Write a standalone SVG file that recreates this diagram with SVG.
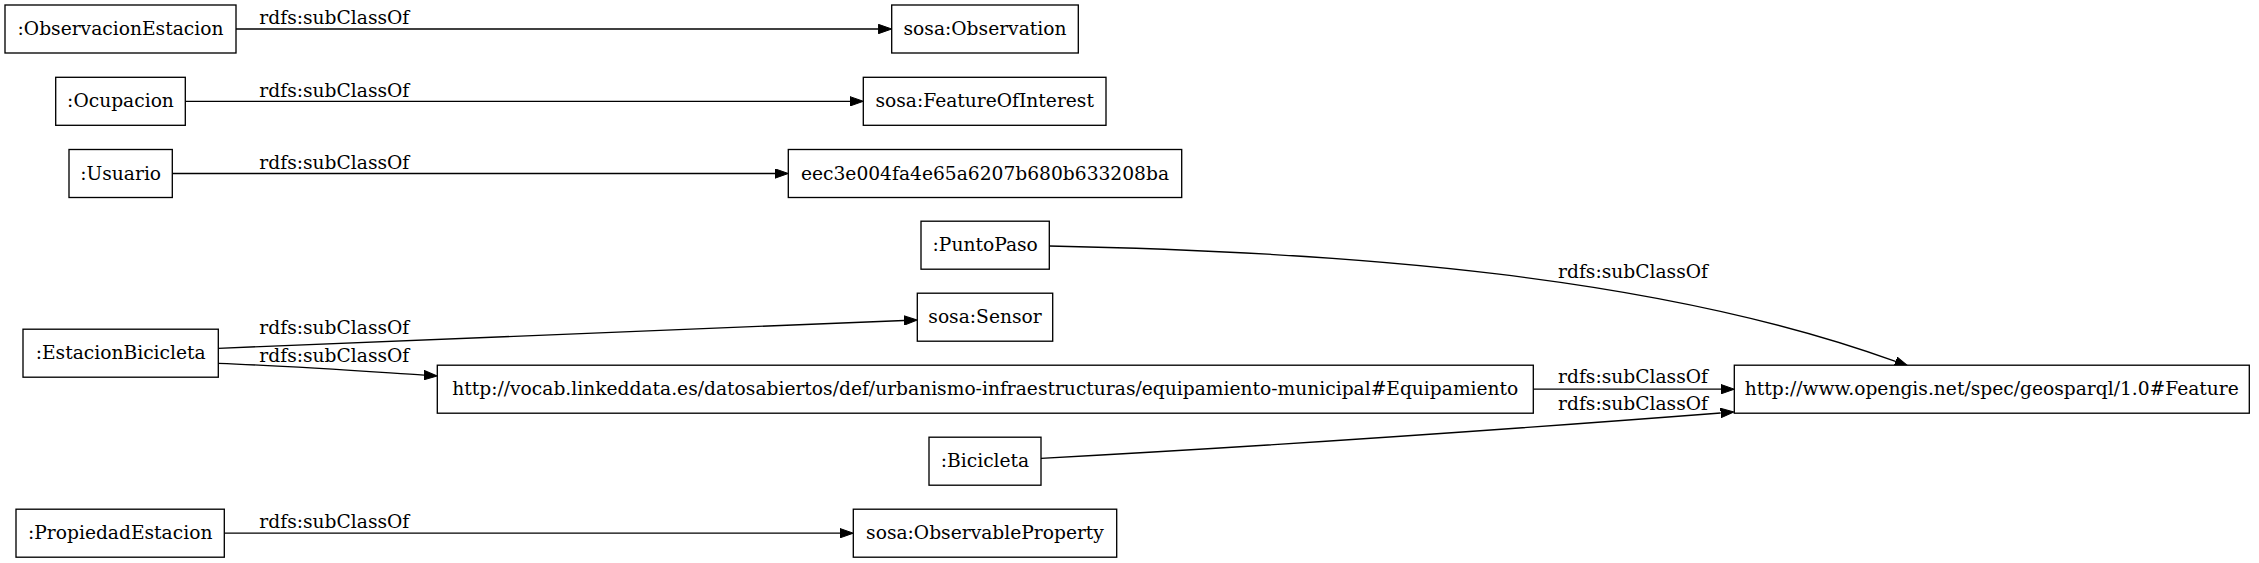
<svg xmlns="http://www.w3.org/2000/svg" width="2259" height="563" viewBox="0 0 2259 563">
<style>
.n rect{fill:#fff;stroke:#000;stroke-width:1.33}
text{font-family:"DejaVu Serif","Liberation Serif",serif;font-size:18.67px;fill:#000;text-anchor:middle}
.e path{fill:none;stroke:#000;stroke-width:1.33;marker-end:url(#ah)}
</style>
<defs>
<marker id="ah" viewBox="0 0 14 10" refX="0" refY="5" markerWidth="14" markerHeight="10" markerUnits="userSpaceOnUse" orient="auto">
<path d="M0,0.33 L13.33,5 L0,9.67 z" fill="#000" stroke="#000" stroke-width="1"/>
</marker>
</defs>
<rect width="2259" height="563" fill="#fff"/>
<g id="connectors" class="e">
<g id="e1"><path d="M236,29 L878.4,29"/><text x="334.3" y="24">rdfs:subClassOf</text></g>
<g id="e2"><path d="M185.3,101.3 L850,101.3"/><text x="334.3" y="96.5">rdfs:subClassOf</text></g>
<g id="e3"><path d="M172.3,173.5 L775,173.5"/><text x="334.3" y="168.5">rdfs:subClassOf</text></g>
<g id="e4"><path d="M1049.3,246 C1350,252 1660,276 1895.5,361.4"/><text x="1633" y="278.3">rdfs:subClassOf</text></g>
<g id="e5"><path d="M218.3,348.3 L904,320.5"/><text x="334.3" y="334.3">rdfs:subClassOf</text></g>
<g id="e6"><path d="M218.3,363.3 C290,366 360,371 424,375.1"/><text x="334.3" y="361.7">rdfs:subClassOf</text></g>
<g id="e7"><path d="M1533.3,389.2 L1721,389.2"/><text x="1633" y="383.3">rdfs:subClassOf</text></g>
<g id="e8"><path d="M1041,458.3 C1270,446 1500,430 1720.7,413"/><text x="1633" y="410">rdfs:subClassOf</text></g>
<g id="e9"><path d="M224.3,533.2 L840,533.2"/><text x="334.3" y="528">rdfs:subClassOf</text></g>
</g>
<g id="n1" class="n"><rect x="5" y="5" width="231" height="48"/><text x="120.5" y="35">:ObservacionEstacion</text></g>
<g id="n2" class="n"><rect x="891.7" y="5" width="186.6" height="48"/><text x="985" y="35">sosa:Observation</text></g>
<g id="n3" class="n"><rect x="55.7" y="77.3" width="129.6" height="48"/><text x="120.5" y="107.3">:Ocupacion</text></g>
<g id="n4" class="n"><rect x="863.3" y="77.3" width="242.7" height="48"/><text x="984.7" y="107.3">sosa:FeatureOfInterest</text></g>
<g id="n5" class="n"><rect x="69" y="149.5" width="103.3" height="48"/><text x="120.7" y="179.5">:Usuario</text></g>
<g id="n6" class="n"><rect x="788.3" y="149.5" width="393.4" height="48"/><text x="985" y="179.5">eec3e004fa4e65a6207b680b633208ba</text></g>
<g id="n7" class="n"><rect x="921" y="221.2" width="128.3" height="48"/><text x="985.2" y="251.2">:PuntoPaso</text></g>
<g id="n8" class="n"><rect x="917.3" y="293.2" width="135.4" height="48"/><text x="985" y="323.2">sosa:Sensor</text></g>
<g id="n9" class="n"><rect x="23" y="329.2" width="195.3" height="48"/><text x="120.7" y="359.2">:EstacionBicicleta</text></g>
<g id="n10" class="n"><rect x="437.3" y="365.2" width="1096" height="48"/><text x="985.3" y="395.2">http://vocab.linkeddata.es/datosabiertos/def/urbanismo-infraestructuras/equipamiento-municipal#Equipamiento</text></g>
<g id="n11" class="n"><rect x="1734.3" y="365.2" width="515" height="48"/><text x="1991.8" y="395.2">http://www.opengis.net/spec/geosparql/1.0#Feature</text></g>
<g id="n12" class="n"><rect x="929" y="437.2" width="112" height="48"/><text x="985" y="467.2">:Bicicleta</text></g>
<g id="n13" class="n"><rect x="16" y="509.2" width="208.3" height="48"/><text x="120.2" y="539.2">:PropiedadEstacion</text></g>
<g id="n14" class="n"><rect x="853.3" y="509.2" width="263.4" height="48"/><text x="985" y="539.2">sosa:ObservableProperty</text></g>
</svg>
